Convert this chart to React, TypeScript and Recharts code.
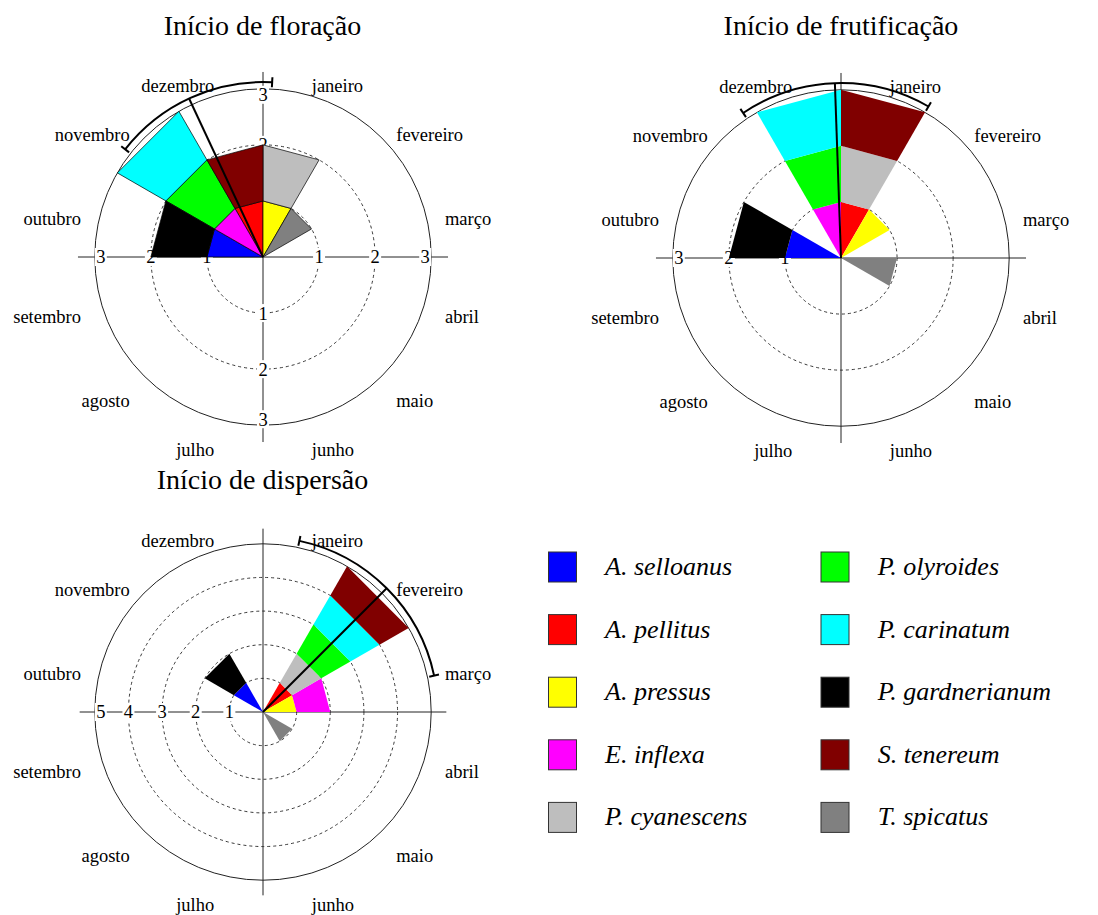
import React from 'react';
import { RadarChart, Radar, PolarGrid, PolarAngleAxis, PolarRadiusAxis } from 'recharts';

const FONT = '"Liberation Serif", "Times New Roman", serif';

// ---- categories ----
const MONTHS = ['janeiro', 'fevereiro', 'março', 'abril', 'maio', 'junho', 'julho', 'agosto', 'setembro', 'outubro', 'novembro', 'dezembro'];
// month boundaries and month centres, in degrees clockwise from the top
const MONTH_BOUNDARY_DEG = [0, 30, 60, 90, 120, 150, 180, 210, 240, 270, 300, 330];
const MONTH_CENTER_DEG = [15, 45, 75, 105, 135, 165, 195, 225, 255, 285, 315, 345];

const SPECIES = ['A. selloanus', 'A. pellitus', 'A. pressus', 'E. inflexa', 'P. cyanescens', 'P. olyroides', 'P. carinatum', 'P. gardnerianum', 'S. tenereum', 'T. spicatus'];
const SPECIES_COLORS = ['#0000FF', '#FF0000', '#FFFF00', '#FF00FF', '#BEBEBE', '#00FF00', '#00FFFF', '#000000', '#800000', '#808080'];

// ---- series: month of onset for each species, and its count ----
const FLORACAO_MONTH = ['outubro', 'dezembro', 'janeiro', 'novembro', 'janeiro', 'novembro', 'novembro', 'outubro', 'dezembro', 'fevereiro'];
const FLORACAO_COUNT = [1, 1, 1, 1, 1, 1, 1, 1, 1, 1];
const FLORACAO_MEAN_DEG = 335;
const FLORACAO_ARC_DEG = [308, 3];
const FLORACAO_TICKS = [1, 2, 3];

const FRUTIFICACAO_MONTH = ['outubro', 'janeiro', 'fevereiro', 'dezembro', 'janeiro', 'dezembro', 'dezembro', 'outubro', 'janeiro', 'abril'];
const FRUTIFICACAO_COUNT = [1, 1, 1, 1, 1, 1, 1, 1, 1, 1];
const FRUTIFICACAO_MEAN_DEG = 358;
const FRUTIFICACAO_ARC_DEG = [326, 30];
const FRUTIFICACAO_TICKS = [1, 2, 3];

const DISPERSAO_MONTH = ['novembro', 'fevereiro', 'março', 'março', 'fevereiro', 'fevereiro', 'fevereiro', 'novembro', 'fevereiro', 'maio'];
const DISPERSAO_COUNT = [1, 1, 1, 1, 1, 1, 1, 1, 1, 1];
const DISPERSAO_MEAN_DEG = 45;
const DISPERSAO_ARC_DEG = [12, 78];
const DISPERSAO_TICKS = [1, 2, 3, 4, 5];

const TITLES = ['Início de floração', 'Início de frutificação', 'Início de dispersão'];

// ---- layout ----
const PANEL_W = 520;
const PANEL_H = 440;
const CX = 260;
const CY = 220;
const CIRCLE_PX = 168.2; // radius of the outer (maximum) circle
const LABEL_PX = 188.4; // radius where month labels are anchored
const ARC_FACTOR = 1.04;

type Side = 'R' | 'L' | 'U' | 'D';

function buildRows(months: string[], counts: number[], mean: number, arc: number[], max: number) {
  const levels = MONTHS.map(() => 0);
  const ranges = months.map((m, i) => {
    const k = MONTHS.indexOf(m);
    const lo = levels[k];
    levels[k] += counts[i];
    return { k, lo, hi: levels[k] };
  });
  const rows: any[] = MONTH_BOUNDARY_DEG.map((deg, j) => {
    const row: any = { angle: deg };
    ranges.forEach((r, i) => {
      if (r.k === j || (r.k + 1) % 12 === j) row['s' + i] = [r.lo, r.hi];
    });
    return row;
  });
  const arcR = max * ARC_FACTOR;
  rows.push({ angle: mean, mean: [0, arcR] });
  rows.push({ angle: arc[0], arc: arcR, arcEnd: 'from' });
  rows.push({ angle: arc[1], arc: arcR, arcEnd: 'to' });
  return rows;
}

const ok = (p: any) => p && Number.isFinite(p.x) && Number.isFinite(p.y);

const wedgeShape = (color: string, outlined: boolean) => (props: any) => {
  const pts: any[] = props.points || [];
  const base: any[] = props.baseLinePoints || [];
  const outer: any[] = [];
  const inner: any[] = [];
  pts.forEach((p, i) => {
    if (!Array.isArray(p.value) || !ok(p)) return;
    outer.push(p);
    const b = base[i];
    if (ok(b) && Array.isArray(b.value)) inner.push(b);
    else {
      const [lo, hi] = p.value;
      const t = hi ? lo / hi : 0;
      inner.push({ x: p.cx + (p.x - p.cx) * t, y: p.cy + (p.y - p.cy) * t });
    }
  });
  if (outer.length < 2) return <g />;
  const d =
    outer.map((p, i) => `${i ? 'L' : 'M'}${p.x},${p.y}`).join('') +
    inner.slice().reverse().map((p) => `L${p.x},${p.y}`).join('') +
    'Z';
  return <path d={d} fill={color} stroke={outlined ? '#000' : 'none'} strokeWidth={0.7} />;
};

const meanShape = (props: any) => {
  const pts: any[] = props.points || [];
  const base: any[] = props.baseLinePoints || [];
  const i = pts.findIndex((p) => Array.isArray(p.value) && ok(p));
  if (i < 0) return <g />;
  const p = pts[i];
  const b = ok(base[i]) ? base[i] : { x: p.cx, y: p.cy };
  return <line x1={b.x} y1={b.y} x2={p.x} y2={p.y} stroke="#000" strokeWidth={2} />;
};

const arcShape = (props: any) => {
  const pts: any[] = props.points || [];
  const from = pts.find((p) => p.payload && p.payload.arcEnd === 'from' && ok(p));
  const to = pts.find((p) => p.payload && p.payload.arcEnd === 'to' && ok(p));
  if (!from || !to) return <g />;
  const r = Math.hypot(from.x - from.cx, from.y - from.cy);
  const cap = (p: any) => {
    const ux = (p.x - p.cx) / r;
    const uy = (p.y - p.cy) / r;
    return <line x1={p.x - ux * 5} y1={p.y - uy * 5} x2={p.x + ux * 5} y2={p.y + uy * 5} stroke="#000" strokeWidth={2} />;
  };
  return (
    <g>
      <path d={`M${from.x},${from.y}A${r},${r} 0 0 1 ${to.x},${to.y}`} fill="none" stroke="#000" strokeWidth={2} />
      {cap(from)}
      {cap(to)}
    </g>
  );
};

const MonthTick = (props: any) => {
  const { x, y, payload } = props;
  const idx = MONTH_CENTER_DEG.indexOf(payload?.value);
  if (idx < 0) return <g />;
  return (
    <text x={x} y={y + 17} textAnchor={x > CX ? 'start' : 'end'} fontFamily={FONT} fontSize={18.5} fill="#000">
      {MONTHS[idx]}
    </text>
  );
};

// the tick point comes from the right-hand radius axis; it is mirrored onto the requested sides
const makeRadiusTick = (sides: Side[], max: number) => (props: any) => {
  const { x, y, payload } = props;
  const v = payload?.value;
  const d = x - CX;
  const dd = v === max ? d - 6 : d;
  const pos: Record<Side, [number, number]> = {
    R: [CX + dd, y],
    L: [CX - dd, y],
    U: [CX, CY - dd],
    D: [CX, CY + dd],
  };
  return (
    <g>
      {sides.map((s) => {
        const [tx, ty] = pos[s];
        return (
          <g key={s}>
            <rect x={tx - 6} y={ty - 9} width={12} height={18} fill="#fff" />
            <text x={tx} y={ty} dy="0.35em" textAnchor="middle" fontFamily={FONT} fontSize={18.5} fill="#000">
              {v}
            </text>
          </g>
        );
      })}
    </g>
  );
};

interface PanelProps {
  months: string[];
  counts: number[];
  mean: number;
  arc: number[];
  ticks: number[];
  axisExtent: number;
  labelSides: Side[];
  outlined: boolean;
  left: number;
  top: number;
}

function Panel({ months, counts, mean, arc, ticks, axisExtent, labelSides, outlined, left, top }: PanelProps) {
  const max = ticks[ticks.length - 1];
  const unit = CIRCLE_PX / max;
  const outer = axisExtent * unit;
  const rows = buildRows(months, counts, mean, arc, max);
  const px = (v: number) => v * unit;
  const extraProps: any = { zIndex: 50 };
  return (
    <div style={{ position: 'absolute', left, top, width: PANEL_W, height: PANEL_H }}>
      <RadarChart
        width={PANEL_W}
        height={PANEL_H}
        cx={CX}
        cy={CY}
        outerRadius={outer}
        startAngle={90}
        endAngle={-270}
        data={rows}
        margin={{ top: 0, right: 0, bottom: 0, left: 0 }}
      >
        <PolarGrid gridType="circle" radialLines={false} polarRadius={ticks.slice(0, -1).map(px)} stroke="#222" strokeWidth={0.9} strokeDasharray="3 3" />
        <PolarGrid gridType="circle" radialLines polarAngles={[0, 90, 180, 270]} polarRadius={[px(max)]} stroke="#222" strokeWidth={1} />
        <PolarAngleAxis
          dataKey="angle"
          type="number"
          domain={[0, 360]}
          ticks={MONTH_CENTER_DEG}
          tick={MonthTick}
          tickSize={LABEL_PX - outer}
          axisLine={false}
          tickLine={false}
        />
        <PolarRadiusAxis
          radiusAxisId="R"
          angle={0}
          type="number"
          domain={[0, axisExtent]}
          allowDataOverflow
          ticks={ticks}
          tick={makeRadiusTick(labelSides, max)}
          axisLine={false}
          tickLine={false}
          {...extraProps}
        />
        {SPECIES.map((name, i) => (
          <Radar
            key={name}
            name={name}
            dataKey={'s' + i}
            radiusAxisId="R"
            fill={SPECIES_COLORS[i]}
            stroke="none"
            shape={wedgeShape(SPECIES_COLORS[i], outlined)}
            isAnimationActive={false}
            dot={false}
            legendType="none"
          />
        ))}
        <Radar dataKey="mean" radiusAxisId="R" shape={meanShape} isAnimationActive={false} dot={false} legendType="none" />
        <Radar dataKey="arc" radiusAxisId="R" shape={arcShape} isAnimationActive={false} dot={false} legendType="none" />
      </RadarChart>
    </div>
  );
}

function Overlay() {
  const colX = [548.5, 821];
  const textX = [605, 877.7];
  return (
    <svg width={1098} height={915} style={{ position: 'absolute', left: 0, top: 0 }}>
      <text x={262.5} y={35} textAnchor="middle" fontFamily={FONT} fontSize={28}>{TITLES[0]}</text>
      <text x={841} y={35} textAnchor="middle" fontFamily={FONT} fontSize={28}>{TITLES[1]}</text>
      <text x={262.5} y={489} textAnchor="middle" fontFamily={FONT} fontSize={28}>{TITLES[2]}</text>
      {SPECIES.map((name, i) => {
        const col = i < 5 ? 0 : 1;
        const row = i % 5;
        const y = 552 + row * 62.6;
        return (
          <g key={name}>
            <rect x={colX[col]} y={y} width={28} height={30} fill={SPECIES_COLORS[i]} stroke="#333" strokeWidth={1} />
            <text x={textX[col]} y={y + 23} fontFamily={FONT} fontStyle="italic" fontSize={26} fill="#000">{name}</text>
          </g>
        );
      })}
    </svg>
  );
}

export default function App() {
  return (
    <div style={{ position: 'absolute', left: 0, top: 0, width: 1098, height: 915, background: '#fff', overflow: 'hidden' }}>
      <Overlay />
      <Panel months={FLORACAO_MONTH} counts={FLORACAO_COUNT} mean={FLORACAO_MEAN_DEG} arc={FLORACAO_ARC_DEG} ticks={FLORACAO_TICKS} axisExtent={3.3} labelSides={['R', 'L', 'U', 'D']} outlined left={263 - CX} top={257 - CY} />
      <Panel months={FRUTIFICACAO_MONTH} counts={FRUTIFICACAO_COUNT} mean={FRUTIFICACAO_MEAN_DEG} arc={FRUTIFICACAO_ARC_DEG} ticks={FRUTIFICACAO_TICKS} axisExtent={3.3} labelSides={['L']} outlined={false} left={841 - CX} top={257.5 - CY} />
      <Panel months={DISPERSAO_MONTH} counts={DISPERSAO_COUNT} mean={DISPERSAO_MEAN_DEG} arc={DISPERSAO_ARC_DEG} ticks={DISPERSAO_TICKS} axisExtent={5.45} labelSides={['L']} outlined={false} left={263 - CX} top={711.5 - CY} />
    </div>
  );
}
